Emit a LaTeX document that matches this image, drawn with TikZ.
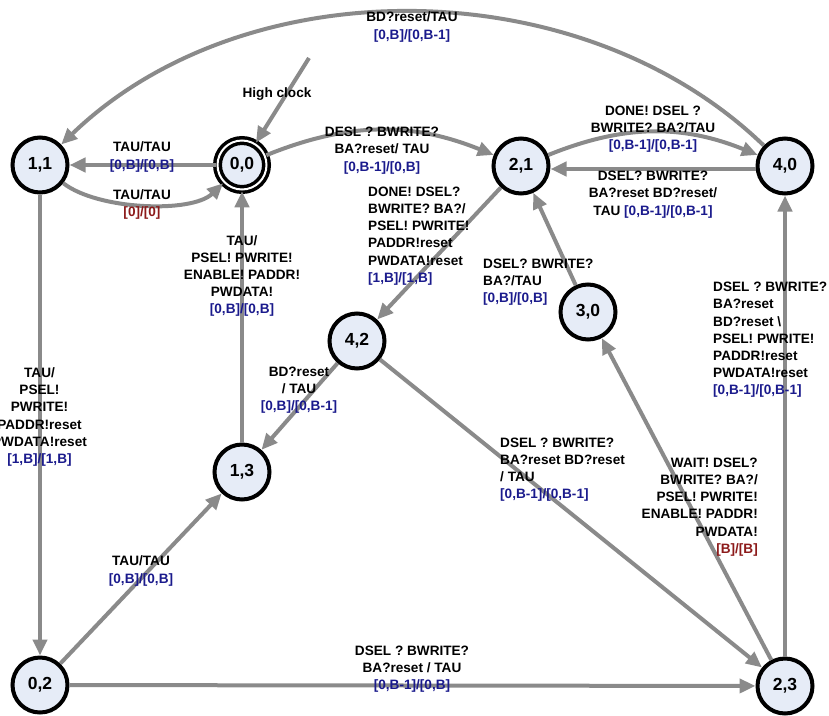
\documentclass[tikz,border=0pt]{standalone}
\usepackage{fontspec}
\setmainfont{Liberation Sans}
\usetikzlibrary{arrows.meta}
\definecolor{edgegray}{HTML}{8A8A8A}
\definecolor{nodefill}{HTML}{E6ECF7}
\definecolor{lblue}{HTML}{1A1A8C}
\definecolor{lred}{HTML}{8C1A1A}
\begin{document}
\begin{tikzpicture}[x=1pt,y=1pt,
  state/.style={circle, draw=black, line width=4pt, fill=nodefill, minimum size=55pt, inner sep=0pt, font=\fontsize{17.5}{20}\selectfont\bfseries},
  initstate/.style={state, double=white, double distance=2pt, line width=3.5pt, minimum size=49pt},
  edge/.style={draw=edgegray, line width=4pt, -{Triangle[length=16pt,width=14pt]}},
  lbl/.style={inner sep=0pt, font=\fontsize{13.6}{17.2}\selectfont\bfseries},
  lc/.style={lbl, align=center},
  ll/.style={lbl, align=left, anchor=west},
  lr/.style={lbl, align=right, anchor=east},
]
\useasboundingbox (0,0) rectangle (829,-715);
% states
\node[state] (n11) at (40,-165) {1,1};
\node[initstate] (n00) at (242,-165) {0,0};
\node[state] (n21) at (521,-166) {2,1};
\node[state] (n40) at (785,-166) {4,0};
\node[state] (n30) at (588,-312) {3,0};
\node[state] (n42) at (357,-341) {4,2};
\node[state] (n13) at (242,-472) {1,3};
\node[state] (n02) at (40,-685) {0,2};
\node[state] (n23) at (785,-686) {2,3};
\coordinate (init) at (309,-58);
% transitions
\draw[edge] (init) -- (n00);
\draw[edge] (n00) -- (n11);
\draw[edge] (n11) to[out=-38,in=-136,looseness=0.7] (n00);
\draw[edge] (n00) to[out=22,in=158] (n21);
\draw[edge] (n21) to[out=22,in=158] (n40);
\draw[edge] ([yshift=-3pt]n40.west) -- ([yshift=-3pt]n21.east);
\draw[edge] (n40) to[out=136,in=44,looseness=0.93] (n11);
\draw[edge] (n13) -- (n00);
\draw[edge] (n21) -- (n42);
\draw[edge] (n42) -- (n13);
\draw[edge] (n42) -- (n23);
\draw[edge] (n23) -- (n30);
\draw[edge] (n30) -- (n21);
\draw[edge] (n23) -- (n40);
\draw[edge] (n11) -- (n02);
\draw[edge] (n02) -- (n13);
\draw[edge] (n02) -- (n23);
% labels
\node[lc] (lA) at (412,-27) {BD?reset/TAU\\\textcolor{lblue}{[0,B]/[0,B-1]}};
\node[lc] (lB) at (277,-94) {High clock};
\node[lc] (lC) at (142,-157) {TAU/TAU\\\textcolor{lblue}{[0,B]/[0,B]}};
\node[lc] (lD) at (142,-204.5) {TAU/TAU\\\textcolor{lred}{[0]/[0]}};
\node[lc] (lE) at (382,-150.5) {DESL ? BWRITE?\\BA?reset/ TAU\\\textcolor{lblue}{[0,B-1]/[0,B]}};
\node[lc] (lF) at (653,-129) {DONE! DSEL ?\\BWRITE? BA?/TAU\\\textcolor{lblue}{[0,B-1]/[0,B-1]}};
\node[lc] (lG) at (653,-194.5) {DSEL? BWRITE?\\BA?reset BD?reset/\\TAU \textcolor{lblue}{[0,B-1]/[0,B-1]}};
\node[ll] (lH) at (368,-236) {DONE! DSEL?\\BWRITE? BA?/\\PSEL! PWRITE!\\PADDR!reset\\PWDATA!reset\\\textcolor{lblue}{[1,B]/[1,B]}};
\node[lc] (lI) at (242,-276) {TAU/\\PSEL! PWRITE!\\ENABLE! PADDR!\\PWDATA!\\\textcolor{lblue}{[0,B]/[0,B]}};
\node[lc] (lJ) at (299,-390) {BD?reset\\/ TAU\\\textcolor{lblue}{[0,B]/[0,B-1]}};
\node[lc] (lK) at (39.5,-417) {TAU/\\PSEL!\\PWRITE!\\PADDR!reset\\PWDATA!reset\\\textcolor{lblue}{[1,B]/[1,B]}};
\node[lc] (lL) at (141,-571) {TAU/TAU\\\textcolor{lblue}{[0,B]/[0,B]}};
\node[lc] (lM) at (412,-669) {DSEL ? BWRITE?\\BA?reset / TAU\\\textcolor{lblue}{[0,B-1]/[0,B]}};
\node[ll] (lN) at (500,-469.5) {DSEL ? BWRITE?\\BA?reset BD?reset\\/ TAU\\\textcolor{lblue}{[0,B-1]/[0,B-1]}};
\node[lr] (lO) at (758,-507) {WAIT! DSEL?\\BWRITE? BA?/\\PSEL! PWRITE!\\ENABLE! PADDR!\\PWDATA!\\\textcolor{lred}{[B]/[B]}};
\node[ll] (lP) at (483,-282) {DSEL? BWRITE?\\BA?/TAU\\\textcolor{lblue}{[0,B]/[0,B]}};
\node[ll] (lQ) at (713,-340) {DSEL ? BWRITE?\\BA?reset\\BD?reset \textbackslash\\PSEL! PWRITE!\\PADDR!reset\\PWDATA!reset\\\textcolor{lblue}{[0,B-1]/[0,B-1]}};
\end{tikzpicture}
\end{document}
